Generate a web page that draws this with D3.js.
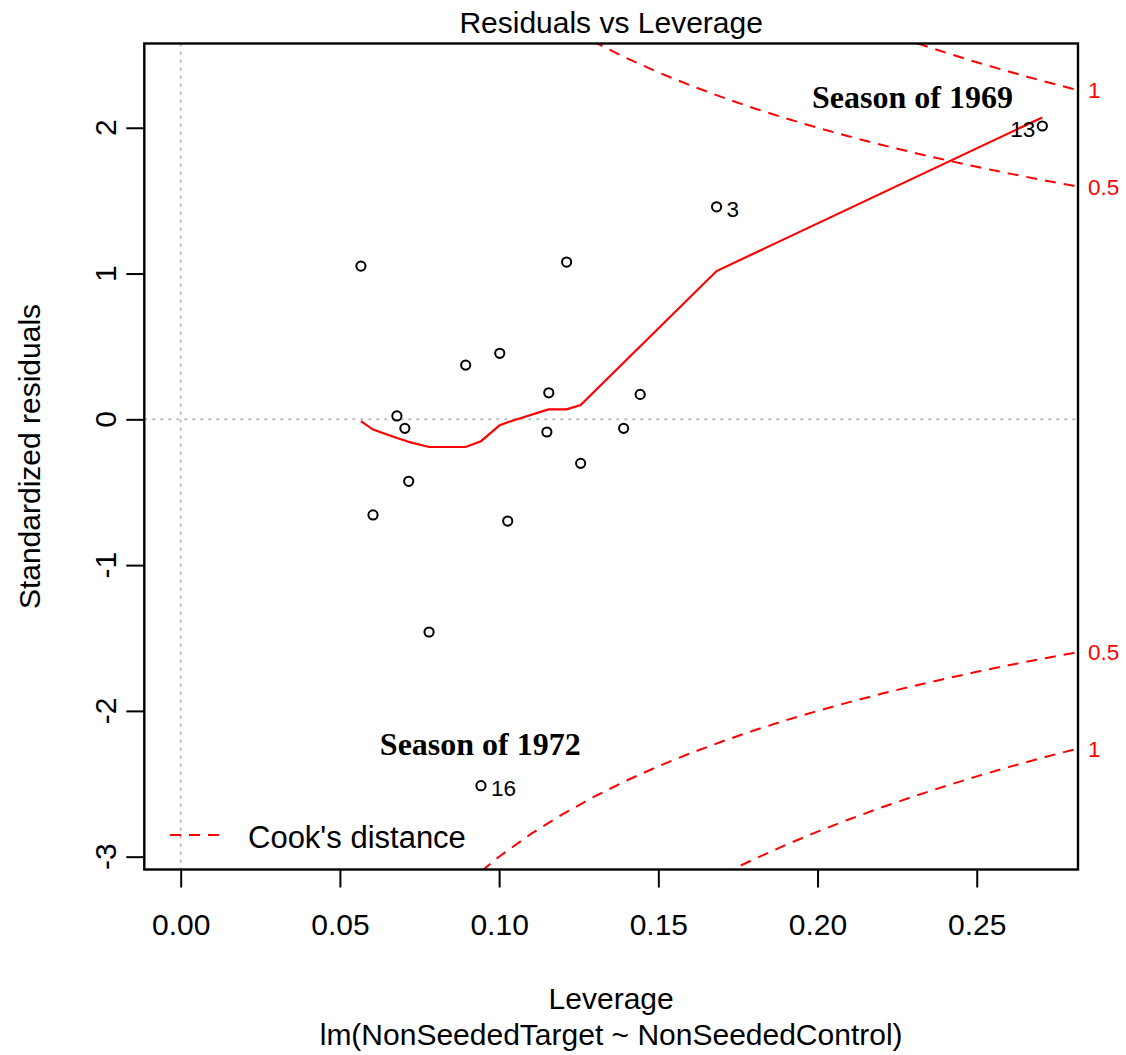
<!DOCTYPE html>
<html>
<head>
<meta charset="utf-8">
<script src="https://cdn.jsdelivr.net/npm/d3@7"></script>
<style>
  html, body { margin: 0; padding: 0; background: #fff; }
  svg text { font-family: "Liberation Sans", Arial, Helvetica, sans-serif; }
  svg text.ann { font-family: "Liberation Serif", "Times New Roman", serif; font-weight: bold; }
</style>
</head>
<body>
<svg id="chart" width="1126" height="1055"></svg>
<script>
// ---- data ----
const leverage = [0.0566, 0.1212, 0.0679, 0.0704, 0.0895, 0.1002, 0.1156, 0.1443, 0.1150,
                  0.1391, 0.1256, 0.0716, 0.0604, 0.1027, 0.1683, 0.2706, 0.0943, 0.0780];
const stdResid = [1.051, 1.079, 0.023, -0.062, 0.372, 0.453, 0.182, 0.171, -0.087,
                  -0.062, -0.302, -0.425, -0.656, -0.698, 1.458, 2.012, -2.513, -1.459];
const pointIds = ["", "", "", "", "", "", "", "", "", "", "", "", "", "", "3", "13", "16", ""];

const smoothLev = [0.0566, 0.0604, 0.0679, 0.0704, 0.0716, 0.0780, 0.0895, 0.0943, 0.1002,
                   0.1027, 0.1150, 0.1156, 0.1212, 0.1256, 0.1683, 0.2706];
const smoothRes = [-0.012, -0.070, -0.128, -0.145, -0.155, -0.190, -0.190, -0.150, -0.040,
                   -0.020, 0.065, 0.068, 0.068, 0.098, 1.017, 2.071];

const cookLev05 = [0.09, 0.10, 0.11, 0.12, 0.13, 0.14, 0.15, 0.16, 0.17, 0.18, 0.19, 0.20,
                   0.21, 0.22, 0.23, 0.24, 0.25, 0.26, 0.27, 0.28, 0.2818];
const cookRes05 = [3.180, 3.000, 2.844, 2.708, 2.587, 2.478, 2.380, 2.291, 2.210, 2.134, 2.065, 2.000,
                   1.940, 1.883, 1.830, 1.780, 1.732, 1.687, 1.644, 1.604, 1.596];
const cookLev1 = [0.16, 0.165, 0.17, 0.175, 0.18, 0.19, 0.20, 0.21, 0.22, 0.23, 0.24, 0.25, 0.26, 0.27, 0.28, 0.2818];
const cookRes1 = [3.240, 3.181, 3.125, 3.070, 3.018, 2.920, 2.828, 2.743, 2.663, 2.588, 2.517, 2.449, 2.386, 2.325, 2.268, 2.258];
const cookLevels = ["0.5", "1"];

const xTicks = [0.00, 0.05, 0.10, 0.15, 0.20, 0.25];
const yTicks = [-3, -2, -1, 0, 1, 2];
const yTickLabels = ["-3", "-2", "-1", "0", "1", "2"];

const titleText = "Residuals vs Leverage";
const xLabel = "Leverage";
const subLabel = "lm(NonSeededTarget ~ NonSeededControl)";
const yLabel = "Standardized residuals";
const annotations = [
  { text: "Season of 1969", lev: 0.2298, res: 2.135 },
  { text: "Season of 1972", lev: 0.0941, res: -2.302 }
];
const legendText = "Cook's distance";

// ---- layout ----
const L = 144.3, R = 1078, T = 43.5, B = 869.5;
const svg = d3.select("#chart");
const x = d3.scaleLinear().domain([-0.01143, 0.2818]).range([L, R]);
const y = d3.scaleLinear().domain([-3.088, 2.578]).range([B, T]);

svg.append("defs").append("clipPath").attr("id", "plotclip")
  .append("rect").attr("x", L).attr("y", T).attr("width", R - L).attr("height", B - T);

const plot = svg.append("g").attr("clip-path", "url(#plotclip)");

// reference dotted lines
plot.append("line").attr("x1", x(0)).attr("x2", x(0)).attr("y1", T).attr("y2", B)
  .attr("stroke", "#bebebe").attr("stroke-width", 2).attr("stroke-dasharray", "3,5");
plot.append("line").attr("x1", L).attr("x2", R).attr("y1", y(0)).attr("y2", y(0))
  .attr("stroke", "#bebebe").attr("stroke-width", 2).attr("stroke-dasharray", "3,5");

// Cook's distance contours
const lineGen = d3.line().x(d => x(d[0])).y(d => y(d[1]));
const cookSets = [
  d3.zip(cookLev05, cookRes05),
  d3.zip(cookLev1, cookRes1)
];
cookSets.forEach(set => {
  [1, -1].forEach(sign => {
    plot.append("path")
      .attr("d", lineGen(set.map(d => [d[0], sign * d[1]])))
      .attr("fill", "none").attr("stroke", "#ff0000").attr("stroke-width", 2)
      .attr("stroke-dasharray", "11,8");
  });
});

// smoother
plot.append("path")
  .attr("d", lineGen(d3.zip(smoothLev, smoothRes)))
  .attr("fill", "none").attr("stroke", "#ff0000").attr("stroke-width", 2.2);

// points
plot.selectAll("circle.pt").data(d3.zip(leverage, stdResid)).join("circle")
  .attr("class", "pt")
  .attr("cx", d => x(d[0])).attr("cy", d => y(d[1])).attr("r", 4.6)
  .attr("fill", "none").attr("stroke", "#000").attr("stroke-width", 2);

// point id labels
const pts = d3.zip(leverage, stdResid, pointIds).filter(d => d[2] !== "");
svg.selectAll("text.id").data(pts).join("text")
  .attr("class", "id")
  .attr("x", d => d[2] === "13" ? x(d[0]) - 7 : x(d[0]) + 10)
  .attr("y", d => y(d[1]) + 10.5)
  .attr("text-anchor", d => d[2] === "13" ? "end" : "start")
  .attr("font-size", 22.5)
  .text(d => d[2]);

// box
svg.append("rect").attr("x", L).attr("y", T).attr("width", R - L).attr("height", B - T)
  .attr("fill", "none").attr("stroke", "#000").attr("stroke-width", 2.4);

// x axis
const xAxis = svg.append("g").attr("transform", `translate(0,${B})`)
  .call(d3.axisBottom(x).tickValues(xTicks).tickSize(18).tickPadding(26).tickFormat(d3.format(".2f")));
xAxis.select(".domain").remove();
xAxis.selectAll(".tick line").attr("stroke", "#000").attr("stroke-width", 2);
xAxis.selectAll(".tick text").attr("font-size", 30).attr("fill", "#000");

// y axis
const yAxis = svg.append("g").attr("transform", `translate(${L},0)`)
  .call(d3.axisLeft(y).tickValues(yTicks).tickSize(18).tickFormat(""));
yAxis.select(".domain").remove();
yAxis.selectAll(".tick line").attr("stroke", "#000").attr("stroke-width", 2);
svg.selectAll("text.ytick").data(d3.zip(yTicks, yTickLabels)).join("text")
  .attr("class", "ytick")
  .attr("transform", d => `translate(116,${y(d[0])}) rotate(-90)`)
  .attr("text-anchor", "middle").attr("font-size", 30)
  .text(d => d[1]);

// right-side Cook's levels
const rightLabels = [
  { t: cookLevels[1], v: cookRes1[cookRes1.length - 1] },
  { t: cookLevels[0], v: cookRes05[cookRes05.length - 1] },
  { t: cookLevels[0], v: -cookRes05[cookRes05.length - 1] },
  { t: cookLevels[1], v: -cookRes1[cookRes1.length - 1] }
];
svg.selectAll("text.cooklab").data(rightLabels).join("text")
  .attr("class", "cooklab")
  .attr("x", R + 10).attr("y", d => y(d.v) + 8)
  .attr("font-size", 22.5).attr("fill", "#ff0000")
  .text(d => d.t);

// titles
svg.append("text").attr("x", (L + R) / 2).attr("y", 33).attr("text-anchor", "middle")
  .attr("font-size", 30).text(titleText);
svg.append("text").attr("x", (L + R) / 2).attr("y", 1009).attr("text-anchor", "middle")
  .attr("font-size", 30).text(xLabel);
svg.append("text").attr("x", (L + R) / 2).attr("y", 1045).attr("text-anchor", "middle")
  .attr("font-size", 30).text(subLabel);
svg.append("text").attr("transform", `translate(40,${(T + B) / 2}) rotate(-90)`)
  .attr("text-anchor", "middle").attr("font-size", 30).text(yLabel);

// annotations
svg.selectAll("text.ann").data(annotations).join("text")
  .attr("class", "ann")
  .attr("x", d => x(d.lev)).attr("y", d => y(d.res))
  .attr("text-anchor", "middle")
  .attr("font-size", 32)
  .text(d => d.text);

// legend
svg.append("line").attr("x1", 170).attr("x2", 224).attr("y1", 835).attr("y2", 835)
  .attr("stroke", "#ff0000").attr("stroke-width", 2).attr("stroke-dasharray", "11,8");
svg.append("text").attr("x", 248).attr("y", 848).attr("font-size", 31).text(legendText);
</script>
</body>
</html>
